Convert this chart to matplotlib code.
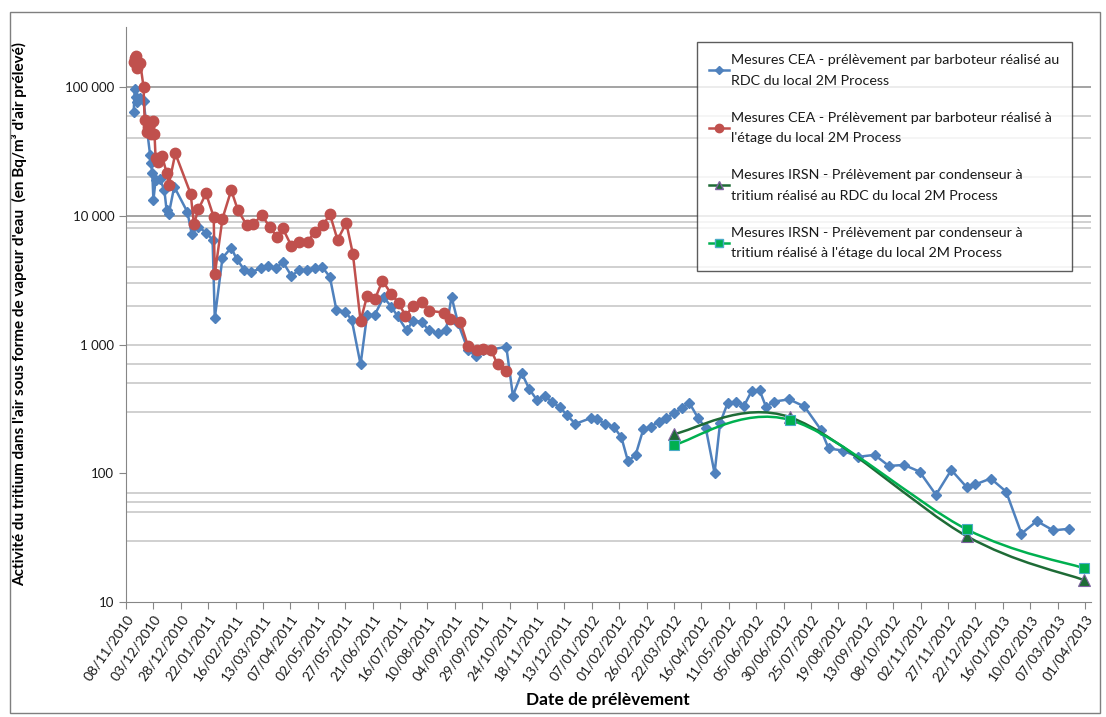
import matplotlib
matplotlib.use("Agg")
import numpy as np
import pandas as pd
import matplotlib.pyplot as plt
import matplotlib.dates as mdates
from matplotlib.path import Path
from matplotlib.patches import PathPatch, Rectangle
from matplotlib.lines import Line2D
from matplotlib.ticker import FixedLocator, FuncFormatter, NullLocator

plt.rcParams["font.family"] = ["Lato", "DejaVu Sans"]

# ---- data ----
CEA_RDC_DATES = [
    "15/11/2010", "16/11/2010", "17/11/2010", "18/11/2010", "21/11/2010", "24/11/2010",
    "30/11/2010", "01/12/2010", "02/12/2010", "03/12/2010", "05/12/2010", "09/12/2010",
    "13/12/2010", "15/12/2010", "17/12/2010", "22/12/2010", "03/01/2011", "07/01/2011",
    "13/01/2011", "20/01/2011", "26/01/2011", "28/01/2011", "04/02/2011", "12/02/2011",
    "17/02/2011", "24/02/2011", "02/03/2011", "11/03/2011", "18/03/2011", "25/03/2011",
    "31/03/2011", "08/04/2011", "15/04/2011", "22/04/2011", "29/04/2011", "06/05/2011",
    "13/05/2011", "19/05/2011", "27/05/2011", "02/06/2011", "10/06/2011", "16/06/2011",
    "23/06/2011", "01/07/2011", "08/07/2011", "14/07/2011", "22/07/2011", "28/07/2011",
    "05/08/2011", "11/08/2011", "20/08/2011", "27/08/2011", "01/09/2011", "07/09/2011",
    "16/09/2011", "23/09/2011", "30/09/2011", "06/10/2011", "21/10/2011", "27/10/2011",
    "04/11/2011", "11/11/2011", "18/11/2011", "25/11/2011", "02/12/2011", "09/12/2011",
    "15/12/2011", "23/12/2011", "06/01/2012", "12/01/2012", "19/01/2012", "27/01/2012",
    "03/02/2012", "09/02/2012", "16/02/2012", "23/02/2012", "01/03/2012", "08/03/2012",
    "15/03/2012", "22/03/2012", "29/03/2012", "05/04/2012", "13/04/2012", "20/04/2012",
    "28/04/2012", "03/05/2012", "10/05/2012", "18/05/2012", "25/05/2012", "01/06/2012",
    "08/06/2012", "14/06/2012", "21/06/2012", "05/07/2012", "19/07/2012", "03/08/2012",
    "10/08/2012", "23/08/2012", "06/09/2012", "21/09/2012", "04/10/2012", "18/10/2012",
    "01/11/2012", "16/11/2012", "30/11/2012", "14/12/2012", "22/12/2012", "05/01/2013",
    "19/01/2013", "02/02/2013", "16/02/2013", "03/03/2013", "17/03/2013",
]
CEA_RDC_VALUES = [
    64000, 97000, 84000, 77000, 82000, 78000,
    29600, 25500, 21500, 13200, 18900, 19200,
    15800, 11100, 10300, 16800, 10700, 7200,
    8200, 7400, 6500, 1600, 4700, 5650,
    4600, 3800, 3650, 3900, 4100, 3900,
    4400, 3400, 3800, 3800, 3900, 4000,
    3350, 1850, 1800, 1550, 700, 1700,
    1700, 2330, 1970, 1650, 1290, 1530,
    1500, 1290, 1220, 1290, 2350, 1460,
    910, 810, 910, 910, 960, 400,
    600, 450, 370, 400, 355, 325,
    285, 242, 268, 263, 242, 230,
    190, 124, 139, 220, 230, 252,
    268, 292, 320, 352, 268, 224,
    100, 245, 352, 360, 335, 438,
    443, 327, 360, 375, 330, 218,
    156, 150, 134, 139, 114, 116,
    103, 68, 106, 78, 82, 91,
    72, 34, 42.5, 36, 37,
]

CEA_ETAGE_DATES = [
    "15/11/2010", "16/11/2010", "17/11/2010", "18/11/2010", "21/11/2010", "24/11/2010",
    "25/11/2010", "27/11/2010", "28/11/2010", "30/11/2010", "01/12/2010", "03/12/2010",
    "04/12/2010", "05/12/2010", "07/12/2010", "11/12/2010", "15/12/2010", "17/12/2010",
    "23/12/2010", "06/01/2011", "09/01/2011", "13/01/2011", "20/01/2011", "27/01/2011",
    "28/01/2011", "04/02/2011", "12/02/2011", "18/02/2011", "26/02/2011", "04/03/2011",
    "12/03/2011", "19/03/2011", "26/03/2011", "31/03/2011", "08/04/2011", "15/04/2011",
    "23/04/2011", "29/04/2011", "07/05/2011", "13/05/2011", "20/05/2011", "28/05/2011",
    "03/06/2011", "10/06/2011", "16/06/2011", "23/06/2011", "30/06/2011", "08/07/2011",
    "15/07/2011", "21/07/2011", "28/07/2011", "05/08/2011", "11/08/2011", "25/08/2011",
    "31/08/2011", "09/09/2011", "16/09/2011", "24/09/2011", "30/09/2011", "07/10/2011",
    "13/10/2011", "21/10/2011",
]
CEA_ETAGE_VALUES = [
    157000, 167000, 174000, 140000, 153000, 100000,
    55000, 45000, 49000, 52000, 43500, 54000,
    43500, 28000, 26300, 29000, 21600, 17300,
    30500, 14800, 8600, 11200, 14900, 9800,
    3500, 9500, 15800, 11100, 8500, 8600,
    10100, 8200, 6800, 8000, 5800, 6300,
    6300, 7500, 8500, 10300, 6500, 8800,
    5050, 1530, 2380, 2240, 3130, 2470,
    2090, 1660, 1990, 2150, 1830, 1770,
    1570, 1500, 970, 900, 920, 910,
    700, 620,
]

IRSN_DATES = ["22/03/2012", "06/07/2012", "14/12/2012", "31/03/2013"]
IRSN_RDC_VALUES = [202, 272, 32.5, 14.8]
IRSN_ETAGE_VALUES = [166, 259, 36.7, 18.3]

LABELS = [
    "Mesures CEA - prélèvement par barboteur réalisé au\nRDC du local 2M Process",
    "Mesures CEA - Prélèvement par barboteur réalisé à\nl'étage du local 2M Process",
    "Mesures IRSN - Prélèvement par condenseur à\ntritium réalisé au RDC du local 2M Process",
    "Mesures IRSN - Prélèvement par condenseur à\ntritium réalisé à l'étage du local 2M Process",
]

GRID_LIGHT = [30, 50, 60, 70, 300, 500, 700, 1000, 2000, 3000, 4000, 8000, 9000, 20000, 40000, 60000]
GRID_DARK = [10000, 100000]
TICK_START, TICK_END, TICK_STEP = "08/11/2010", "01/04/2013", 25
X_END = "06/04/2013"


def to_num(dates):
    return mdates.date2num(pd.to_datetime(dates, format="%d/%m/%Y"))


def smooth_path(x, y):
    """Excel-like smoothed line: Catmull-Rom as cubic Bezier in (x, log y)."""
    ly = np.log10(y)
    px = np.concatenate([[x[0]], x, [x[-1]]])
    py = np.concatenate([[ly[0]], ly, [ly[-1]]])
    verts = [(x[0], y[0])]
    codes = [Path.MOVETO]
    for i in range(1, len(px) - 2):
        c1x = px[i] + (px[i + 1] - px[i - 1]) / 6
        c1y = py[i] + (py[i + 1] - py[i - 1]) / 6
        c2x = px[i + 1] - (px[i + 2] - px[i]) / 6
        c2y = py[i + 1] - (py[i + 2] - py[i]) / 6
        verts += [(c1x, 10 ** c1y), (c2x, 10 ** c2y), (px[i + 1], 10 ** py[i + 1])]
        codes += [Path.CURVE4] * 3
    return Path(verts, codes)


BLUE, RED = "#4f81bd", "#c0504d"
DKGREEN, LTGREEN = "#1e6b36", "#00b050"

fig = plt.figure(figsize=(11.06, 7.17), dpi=100)
ax = fig.add_axes([126 / 1106, 115 / 717, 964.5 / 1106, 575 / 717])

for v in GRID_LIGHT:
    ax.axhline(v, color="#c4c4c4", lw=1.1, zorder=0)
for v in GRID_DARK:
    ax.axhline(v, color="#8a8a8a", lw=1.1, zorder=0)

x_rdc = to_num(CEA_RDC_DATES)
x_et = to_num(CEA_ETAGE_DATES)
x_irsn = to_num(IRSN_DATES)

ax.plot(x_rdc, CEA_RDC_VALUES, color=BLUE, lw=1.8, marker="D", ms=5.5,
        mfc=BLUE, mec=BLUE, zorder=3)
ax.plot(x_et, CEA_ETAGE_VALUES, color=RED, lw=1.8, marker="o", ms=7.5,
        mfc=RED, mec=RED, zorder=4)

ax.add_patch(PathPatch(smooth_path(x_irsn, np.array(IRSN_RDC_VALUES, float)),
                       fc="none", ec=DKGREEN, lw=1.8, zorder=5))
ax.add_patch(PathPatch(smooth_path(x_irsn, np.array(IRSN_ETAGE_VALUES, float)),
                       fc="none", ec=LTGREEN, lw=1.8, zorder=6))
ax.plot(x_irsn, IRSN_RDC_VALUES, ls="none", marker="^", ms=8,
        mfc=DKGREEN, mec="#8064a2", mew=0.8, zorder=7)
ax.plot(x_irsn, IRSN_ETAGE_VALUES, ls="none", marker="s", ms=7.5,
        mfc=LTGREEN, mec="#4bacc6", mew=0.8, zorder=8)

ax.set_yscale("log")
ax.set_ylim(10, 10 ** (1 + 575 / 128.75))
ax.yaxis.set_major_locator(FixedLocator([10, 100, 1000, 10000, 100000]))
ax.yaxis.set_minor_locator(NullLocator())
ax.yaxis.set_major_formatter(FuncFormatter(lambda v, p: f"{int(round(v)):,}".replace(",", " ")))

t0, t1 = to_num([TICK_START, TICK_END])
ticks = np.arange(t0, t1 + 1, TICK_STEP)
ax.set_xlim(t0, to_num([X_END])[0])
ax.xaxis.set_major_locator(FixedLocator(ticks))
ax.xaxis.set_minor_locator(NullLocator())
ax.xaxis.set_major_formatter(mdates.DateFormatter("%d/%m/%Y"))
plt.setp(ax.get_xticklabels(), rotation=55, ha="right", va="top", rotation_mode="anchor")

for s in ["top", "right"]:
    ax.spines[s].set_visible(False)
for s in ["left", "bottom"]:
    ax.spines[s].set_color("#868686")
ax.tick_params(axis="both", direction="out", length=5, color="#868686",
               labelsize=9.5, labelcolor="#1a1a1a")
ax.tick_params(axis="x", pad=3, labelsize=10)

ax.set_ylabel("Activité du tritium dans l'air sous forme de vapeur d'eau  (en Bq/m³ d'air prélevé)",
              fontsize=11, fontweight="bold", labelpad=27)
ax.set_xlabel("Date de prélèvement", fontsize=12.5, fontweight="bold", labelpad=6)

handles = [
    Line2D([], [], color=BLUE, lw=1.8, marker="D", ms=4, mfc=BLUE, mec=BLUE),
    Line2D([], [], color=RED, lw=1.8, marker="o", ms=6, mfc=RED, mec=RED),
    Line2D([], [], color=DKGREEN, lw=1.8, marker="^", ms=6, mfc=DKGREEN, mec="#8064a2"),
    Line2D([], [], color=LTGREEN, lw=1.8, marker="s", ms=6, mfc=LTGREEN, mec="#4bacc6"),
]
leg = fig.legend(handles, LABELS, loc="upper left", bbox_to_anchor=(697 / 1106, 1 - 42 / 717),
                 frameon=True, fancybox=False, fontsize=10.3, handlelength=1.4,
                 handletextpad=0.15, labelspacing=1.75, borderpad=0.85, borderaxespad=0)
leg.get_frame().set_edgecolor("#333333")
leg.get_frame().set_linewidth(1.0)
for t in leg.get_texts():
    t.set_color("#1a1a1a")
    t.set_linespacing(1.85)

fig.patches.append(Rectangle((10 / 1106, 4 / 717), 1090 / 1106, 701 / 717,
                             transform=fig.transFigure, fill=False,
                             edgecolor="#7f7f7f", lw=1))

fig.savefig("out.png", dpi=100)
